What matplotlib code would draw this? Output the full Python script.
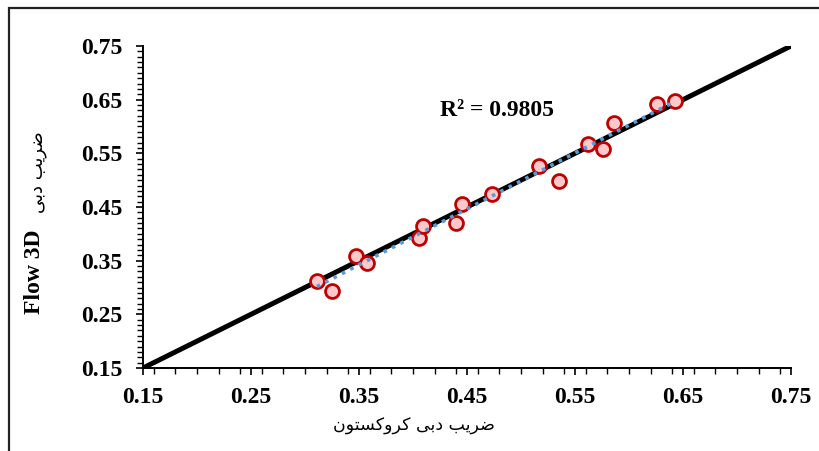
import numpy as np
import matplotlib.pyplot as plt
from matplotlib.patches import Rectangle
from matplotlib.ticker import MultipleLocator, FormatStrFormatter

# ضریب دبی کروکستون (x) vs ضریب دبی Flow 3D (y)
cd_crookston = [0.311, 0.325, 0.347, 0.357, 0.406, 0.409, 0.440, 0.445,
                0.473, 0.517, 0.535, 0.562, 0.576, 0.586, 0.626, 0.643]
cd_flow3d = [0.313, 0.294, 0.359, 0.345, 0.393, 0.415, 0.420, 0.455,
             0.474, 0.527, 0.499, 0.567, 0.559, 0.606, 0.641, 0.648]
axis_ticks = [0.15, 0.25, 0.35, 0.45, 0.55, 0.65, 0.75]
r2_label = "R\u00b2 = 0.9805"

# Persian labels written as presentation forms in visual order (matplotlib has no shaping)
zarib = "\uFE90\uFEF3\uFEAE\uFEBF"          # ضریب
dabi = "\uFEF0\uFE91\uFEA9"                  # دبی
crookston = "\uFEE5\uFEEE\uFE98\uFEB4\uFB90\uFEED\uFEAE\uFB90"  # کروکستون
xlabel_fa = crookston + " " + dabi + " " + zarib
ylabel_fa = dabi + " " + zarib

serif = "Liberation Serif"

fig = plt.figure(figsize=(8.2, 4.51), dpi=100)
ax = fig.add_axes([143 / 820, 1 - 368 / 451, (791 - 143) / 820, (368 - 46) / 451])

# 1:1 line
ax.plot([axis_ticks[0], axis_ticks[-1]], [axis_ticks[0], axis_ticks[-1]],
        color="black", lw=3.6, solid_capstyle="butt", zorder=2)

ax.plot(cd_crookston, cd_flow3d, "o", ms=10, mfc="#FFC9CC", mec="#C00000",
        mew=2.0, zorder=3, clip_on=False)

# linear trend line
x = np.array(cd_crookston)
k, b = np.polyfit(x, np.array(cd_flow3d), 1)
xs = np.array([x.min(), x.max()])
ax.plot(xs, k * xs + b, ls=(0, (1, 1.6)), color="#5B9BD5", lw=2.6, zorder=4)

ax.text(0.425, 0.629, r2_label, fontfamily=serif, fontweight="bold", fontsize=17,
        ha="left", va="center")

ax.set_xlim(axis_ticks[0], axis_ticks[-1])
ax.set_ylim(axis_ticks[0], axis_ticks[-1])
ax.set_xticks(axis_ticks)
ax.set_yticks(axis_ticks)
ax.xaxis.set_minor_locator(MultipleLocator(0.02))
ax.yaxis.set_minor_locator(MultipleLocator(0.01))
ax.xaxis.set_major_formatter(FormatStrFormatter("%.2f"))
ax.yaxis.set_major_formatter(FormatStrFormatter("%.2f"))
ax.tick_params(which="major", direction="out", length=5, width=1.2)
ax.tick_params(which="minor", direction="out", length=4, width=1.0)
ax.tick_params(axis="x", which="major", pad=9)
ax.tick_params(axis="y", which="major", pad=10)
for lab in ax.get_xticklabels() + ax.get_yticklabels():
    lab.set_fontfamily(serif)
    lab.set_fontweight("bold")
    lab.set_fontsize(17)

for s in ["top", "right"]:
    ax.spines[s].set_visible(False)
for s in ["left", "bottom"]:
    ax.spines[s].set_linewidth(1.4)

fig.text(414 / 820, 1 - 426 / 451, xlabel_fa, fontfamily="DejaVu Sans",
         fontsize=12.5, ha="center", va="center")
fig.text(35 / 820, 1 - 272 / 451, "Flow 3D", fontfamily=serif, fontweight="bold",
         fontsize=17, rotation=90, ha="center", va="center")
fig.text(39 / 820, 1 - 172 / 451, ylabel_fa, fontfamily="DejaVu Sans",
         fontsize=13, rotation=90, ha="center", va="center")

# frame around the chart area
fig.patches.append(Rectangle((9.5 / 820, -0.1), 1.2, 1 - 8 / 451 + 0.1,
                             transform=fig.transFigure, fill=False,
                             lw=1.6, ec="#222222"))

fig.savefig("out.png", dpi=100)
